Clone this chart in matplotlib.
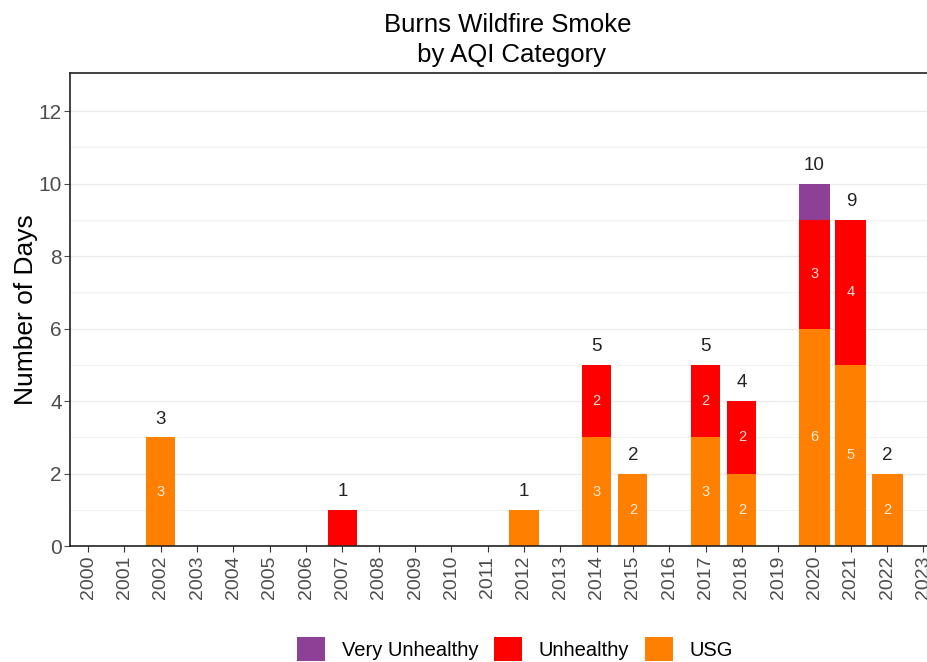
import matplotlib
matplotlib.use("Agg")
import matplotlib.pyplot as plt
from matplotlib.patches import Patch
import numpy as np

plt.rcParams['font.family'] = ['Liberation Sans', 'DejaVu Sans']

years = list(range(2000, 2024))
usg = [0, 0, 3, 0, 0, 0, 0, 0, 0, 0, 0, 0, 1, 0, 3, 2, 0, 3, 2, 0, 6, 5, 2, 0]
unhealthy = [0, 0, 0, 0, 0, 0, 0, 1, 0, 0, 0, 0, 0, 0, 2, 0, 0, 2, 2, 0, 3, 4, 0, 0]
very_unhealthy = [0, 0, 0, 0, 0, 0, 0, 0, 0, 0, 0, 0, 0, 0, 0, 0, 0, 0, 0, 0, 1, 0, 0, 0]
categories = ["Very Unhealthy", "Unhealthy", "USG"]
colors = {"Very Unhealthy": "#8E3F96", "Unhealthy": "#FF0000", "USG": "#FF7F00"}

W, H = 928, 662
fig = plt.figure(figsize=(W / 100, H / 100), dpi=100)
left_px, right_px, top_px, bot_px = 70, 946, 73, 546
ax = fig.add_axes([left_px / W, 1 - bot_px / H, (right_px - left_px) / W, (bot_px - top_px) / H])

x = np.array(years)
usg_a = np.array(usg)
unh_a = np.array(unhealthy)
vu_a = np.array(very_unhealthy)
widths = np.where(x >= 2020, 0.85, 0.8)

ax.bar(x, usg_a, width=widths, color=colors["USG"], zorder=2)
ax.bar(x, unh_a, width=widths, bottom=usg_a, color=colors["Unhealthy"], zorder=2)
ax.bar(x, vu_a, width=widths, bottom=usg_a + unh_a, color=colors["Very Unhealthy"], zorder=2)

totals = usg_a + unh_a + vu_a
for xi, t in zip(x, totals):
    if t > 0:
        ax.text(xi, t + 0.5, str(t), ha='center', va='center', fontsize=13.5, color='#222222', zorder=3)

for vals, bottoms in [(usg_a, np.zeros_like(usg_a)), (unh_a, usg_a), (vu_a, usg_a + unh_a)]:
    for xi, v, b in zip(x, vals, bottoms):
        if v > 1:
            ax.text(xi, b + v / 2, str(v), ha='center', va='center', fontsize=10.5,
                    color='white', alpha=0.85, zorder=3)

ax.set_xlim(1999.5, 2023.62)
ax.set_ylim(0, 13.05)
ax.set_xticks(years)
ax.set_xticklabels([str(y) for y in years], rotation=90, fontsize=14, color='#4D4D4D')
ax.set_yticks([0, 2, 4, 6, 8, 10, 12])
ax.set_yticks(np.arange(1, 13, 2), minor=True)
ax.tick_params(axis='y', which='major', labelsize=15, colors='#4D4D4D', length=4, width=0.8, pad=2)
ax.tick_params(axis='y', which='minor', length=0)
ax.tick_params(axis='x', which='major', length=4, width=0.8, colors='#333333', labelcolor='#4D4D4D', pad=3)
ax.grid(axis='y', which='major', color='#EBEBEB', linewidth=1.0, zorder=0)
ax.grid(axis='y', which='minor', color='#F2F2F2', linewidth=0.8, zorder=0)
ax.set_axisbelow(True)
for s in ax.spines.values():
    s.set_color('#222222')
    s.set_linewidth(1.2)

ax.set_ylabel("Number of Days", fontsize=19, color='black', labelpad=0)
ax.set_title("Burns Wildfire Smoke\n by AQI Category", fontsize=18.5, color='black', pad=8, linespacing=1.3)

handles = [Patch(facecolor=colors[c], edgecolor='none', label=c) for c in categories]
fig.legend(handles=handles, loc='center', bbox_to_anchor=(515 / W, 1 - 649 / H), ncol=3,
           frameon=False, fontsize=14.5, handlelength=1.4, handleheight=1.4,
           handletextpad=0.8, columnspacing=0.8)

fig.savefig("out.png", dpi=100)
